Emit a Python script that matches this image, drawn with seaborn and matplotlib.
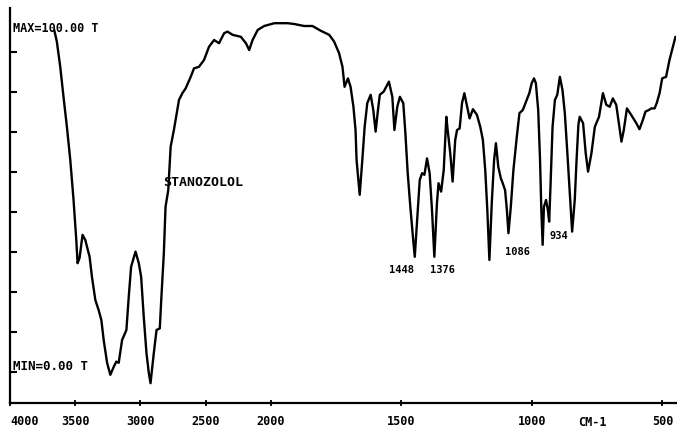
import numpy as np
import pandas as pd
import matplotlib
matplotlib.use("Agg")
import matplotlib.pyplot as plt
import seaborn as sns

# ---- data: IR spectrum of stanozolol (wavenumber cm-1, %T) ----
wavenumber = [
    3661, 3641, 3615, 3590, 3564, 3538, 3513, 3492, 3482, 3467,
    3444, 3423, 3390, 3372, 3346, 3321, 3300, 3282, 3256, 3231,
    3205, 3185, 3167, 3141, 3108, 3090, 3072, 3038, 3013, 2995,
    2975, 2954, 2936, 2923, 2898, 2877, 2852, 2841, 2821, 2808,
    2787, 2769, 2744, 2705, 2679, 2654, 2615, 2590, 2552, 2513,
    2475, 2436, 2398, 2359, 2333, 2295, 2231, 2192, 2167, 2141,
    2102, 2052, 1987, 1936, 1911, 1873, 1841, 1809, 1777, 1758,
    1739, 1726, 1718, 1705, 1695, 1684, 1676, 1672, 1660, 1650,
    1641, 1631, 1618, 1608, 1599, 1590, 1583, 1568, 1548, 1535,
    1527, 1516, 1506, 1493, 1485, 1476, 1466, 1455, 1449, 1440,
    1430, 1421, 1412, 1402, 1392, 1383, 1374, 1364, 1358, 1348,
    1338, 1328, 1323, 1313, 1304, 1294, 1287, 1277, 1268, 1259,
    1248, 1239, 1226, 1211, 1198, 1188, 1179, 1171, 1163, 1154,
    1145, 1138, 1129, 1119, 1112, 1103, 1096, 1090, 1081, 1071,
    1058, 1048, 1035, 1020, 1010, 1001, 992, 985, 976, 969,
    964, 959, 954, 946, 939, 934, 929, 921, 912, 903,
    893, 883, 874, 865, 855, 846, 836, 829, 822, 817,
    804, 794, 785, 772, 759, 743, 728, 715, 702, 690,
    677, 667, 657, 648, 636, 620, 600, 588, 575, 565,
    552, 543, 530, 522, 511, 501, 486, 473, 460, 450,
]
transmittance = [
    95.5, 92.6, 86.3, 78.8, 71.3, 63.0, 53.0, 43.0, 37.2, 38.5,
    44.3, 43.0, 38.8, 33.8, 28.0, 25.5, 23.0, 18.0, 12.3, 9.3,
    11.3, 12.6, 12.3, 18.0, 20.5, 28.8, 36.3, 40.1, 37.2, 33.8,
    23.8, 14.7, 9.7, 7.2, 14.7, 20.5, 20.9, 28.0, 39.7, 51.3,
    55.5, 66.3, 70.5, 78.0, 79.7, 80.9, 83.8, 85.9, 86.3, 88.0,
    91.3, 93.0, 92.2, 94.7, 95.1, 94.3, 93.8, 92.2, 90.5, 93.0,
    95.5, 96.5, 97.2, 97.2, 97.0, 96.5, 96.5, 95.3, 94.3, 92.6,
    89.7, 86.3, 81.3, 83.4, 81.3, 76.3, 70.5, 63.0, 54.3, 63.0,
    71.3, 77.2, 79.3, 75.5, 70.1, 75.5, 79.3, 80.1, 82.6, 78.8,
    70.5, 76.3, 78.8, 77.2, 69.7, 59.7, 51.3, 43.0, 38.8, 48.0,
    58.0, 59.7, 59.3, 63.4, 59.7, 50.5, 38.8, 52.2, 57.2, 55.1,
    60.5, 73.8, 70.5, 64.7, 57.6, 68.0, 70.5, 70.9, 77.2, 79.7,
    76.3, 73.4, 75.7, 74.3, 71.3, 68.0, 60.5, 50.5, 38.0, 52.2,
    63.0, 67.2, 61.3, 58.4, 57.2, 55.5, 50.5, 44.7, 51.3, 60.5,
    68.8, 74.7, 75.5, 78.0, 79.7, 82.2, 83.4, 82.2, 75.5, 63.0,
    50.5, 41.8, 51.3, 53.0, 50.5, 47.6, 56.3, 71.3, 78.0, 79.3,
    83.8, 80.5, 74.7, 65.5, 54.7, 45.1, 53.0, 63.0, 71.8, 73.8,
    72.2, 64.7, 60.1, 64.7, 71.3, 73.8, 79.7, 76.8, 76.3, 78.4,
    76.8, 72.2, 67.6, 70.5, 75.9, 74.3, 72.2, 70.7, 73.0, 75.1,
    75.5, 75.9, 75.9, 77.2, 79.7, 83.4, 83.8, 88.0, 91.3, 93.8,
]
tick_values = [4000, 3500, 3000, 2500, 2000, 1500, 1000, 500]
tick_labels = ["4000", "3500", "3000", "2500", "2000", "1500", "1000", "500"]
peak_labels = ["1448", "1376", "1086", "934"]
peak_pos = [1500, 1343, 1057, 897]
peak_T = [35.5, 35.5, 40.0, 44.0]

df = pd.DataFrame({"wavenumber": wavenumber, "T": transmittance})

sns.set_theme(style="white")
plt.rcParams["font.family"] = ["DejaVu Sans Mono", "DejaVu Sans"]
plt.rcParams["font.weight"] = "bold"
plt.rcParams["text.color"] = "black"
plt.rcParams["xtick.color"] = "black"
plt.rcParams["xtick.labelcolor"] = "black"

fig = plt.figure(figsize=(6.77, 4.43), dpi=100)
ax = fig.add_axes([10 / 677, 40 / 443, 666 / 677, 395 / 443])

sns.lineplot(data=df, x="wavenumber", y="T", ax=ax, color="black",
             linewidth=1.7, sort=False)


def fwd(x):
    x = np.asarray(x, dtype=float)
    return np.where(x > 2000, 2000 + (x - 2000) / 2.0, x)


def inv(u):
    u = np.asarray(u, dtype=float)
    return np.where(u > 2000, 2000 + (u - 2000) * 2.0, u)


ax.set_xscale("function", functions=(fwd, inv))
ax.set_xlim(4000, 448)
ax.set_ylim(2.25, 101)

ax.set_xticks(tick_values)
ax.set_xticklabels(tick_labels, fontsize=8.5, fontweight="bold", color="black")
ax.get_xticklabels()[0].set_horizontalalignment("left")
ax.set_yticks([10, 20, 30, 40, 50, 60, 70, 80, 90])
ax.set_yticklabels([])
ax.tick_params(axis="x", direction="inout", length=5, width=1.3,
               color="black", labelcolor="black", pad=6, bottom=True)
ax.tick_params(axis="y", direction="in", length=5, width=1.5,
               color="black", left=True)
ax.set_xlabel("")
ax.set_ylabel("")

for side in ["top", "right"]:
    ax.spines[side].set_visible(False)
for side in ["left", "bottom"]:
    ax.spines[side].set_color("black")
    ax.spines[side].set_linewidth(1.6)

ax.text(3977, 96.0, "MAX=100.00 T", fontsize=8.5, fontweight="bold",
        ha="left", va="center", color="black")
ax.text(3977, 11.25, "MIN=0.00 T", fontsize=9, fontweight="bold",
        ha="left", va="center", color="black")
ax.text(2823, 57.25, "STANOZOLOL", fontsize=9.5, fontweight="bold",
        ha="left", va="center", color="black")
for lab, px, pt in zip(peak_labels, peak_pos, peak_T):
    ax.text(px, pt, lab, fontsize=7.5, fontweight="bold", ha="center",
            va="center", color="black")
ax.text(767, -2.6, "CM-1", fontsize=8.5, fontweight="bold", ha="center",
        va="center", clip_on=False, color="black")

fig.savefig("out.png", dpi=100)
